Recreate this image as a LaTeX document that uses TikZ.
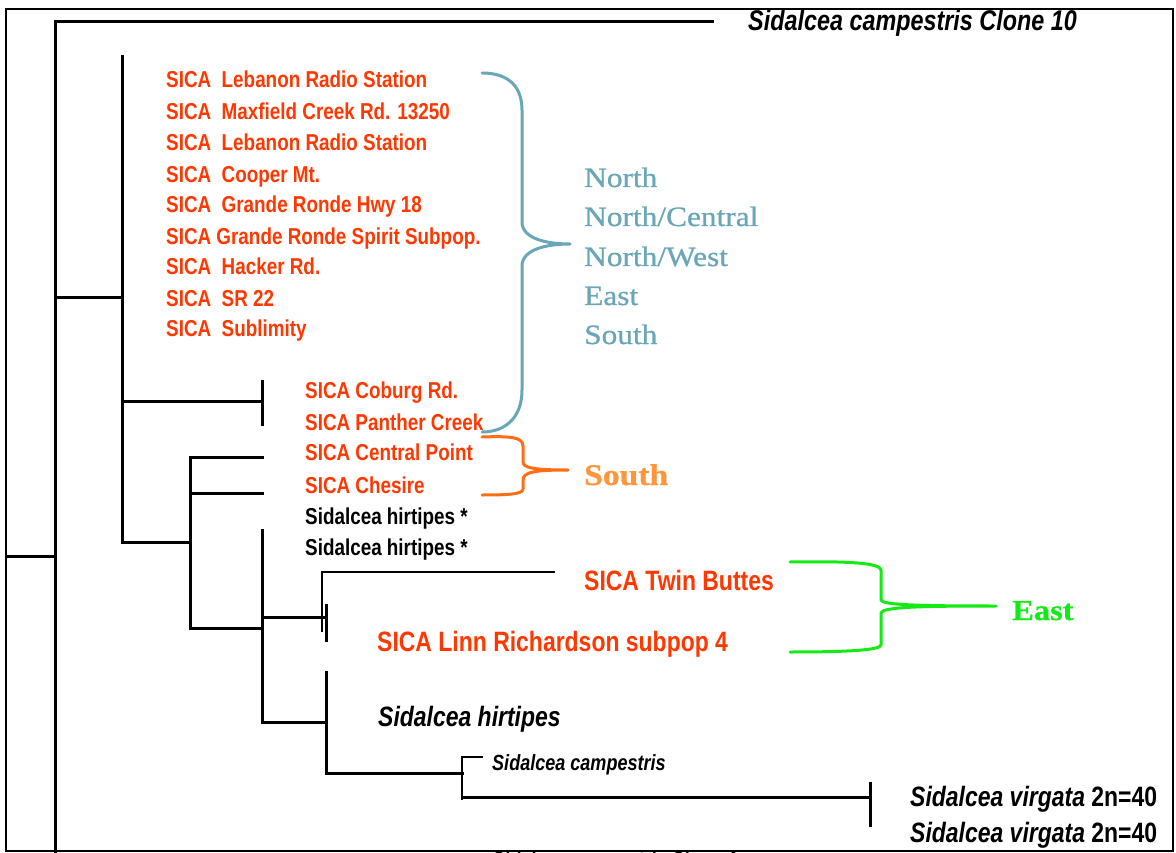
\documentclass[tikz,border=0pt]{standalone}
\usepackage{fontspec}
\newfontfamily\narrowsf[FakeStretch=0.82]{Liberation Sans}
\newfontfamily\wideserif[FakeStretch=1.12,FakeBold=0.8]{Liberation Serif}
\definecolor{sicared}{RGB}{255,55,0}
\definecolor{tealc}{RGB}{104,166,184}
\definecolor{orngc}{RGB}{255,110,20}
\definecolor{orngtxt}{RGB}{255,150,60}
\definecolor{grnc}{RGB}{20,235,20}
\begin{document}
\begin{tikzpicture}[x=1pt,y=-1pt,
  branch/.style={line width=3pt,line cap=rect},
  thinbranch/.style={line width=2pt},
  lab/.style={anchor=base west,inner sep=0pt},
  small/.style={lab,font=\narrowsf\bfseries\fontsize{23}{23}\selectfont},
  redsmall/.style={small,text=sicared},
  redbig/.style={lab,text=sicared,font=\narrowsf\bfseries\fontsize{28}{28}\selectfont},
  itbig/.style={lab,font=\narrowsf\bfseries\itshape\fontsize{28}{28}\selectfont},
  itsmall/.style={lab,font=\narrowsf\bfseries\itshape\fontsize{22}{22}\selectfont},
  region/.style={lab,font=\wideserif\fontsize{28}{28}\selectfont},
  bracecurve/.style={line width=3pt,line cap=round,line join=round}]
\useasboundingbox (0,0) rectangle (1176,853);
\clip (0,0) rectangle (1176,853);
\fill[white] (0,0) rectangle (1176,853);
\draw[line width=1.6pt] (6,9) rectangle (1173,851);

% tree coordinates
\coordinate (r0) at (55,22);  \coordinate (rB) at (55,870); \coordinate (c10) at (712,22);
\coordinate (lstub) at (6,556); \coordinate (rM) at (55,556);
\coordinate (r298) at (55,298); \coordinate (a298) at (122,298);
\coordinate (aT) at (122,57); \coordinate (aB) at (122,542);
\coordinate (a401) at (122,401); \coordinate (b401) at (262,401);
\coordinate (bT) at (262,381); \coordinate (bB) at (262,424);
\coordinate (c542) at (190,542); \coordinate (cT) at (190,457); \coordinate (cB) at (190,628);
\coordinate (c493) at (190,493);
\coordinate (d457) at (262,457); \coordinate (d493) at (262,493);
\coordinate (e628) at (262,628); \coordinate (eT) at (262,530); \coordinate (eB) at (262,722);
\coordinate (e617) at (262,617); \coordinate (f617) at (326,617);
\coordinate (fT) at (326,605); \coordinate (fB) at (326,640);
\coordinate (gT) at (322,572); \coordinate (gB) at (322,632); \coordinate (gR) at (555,572);
\coordinate (h722) at (326,722); \coordinate (hT) at (326,672); \coordinate (hB) at (326,773);
\coordinate (i773) at (462,773); \coordinate (iT) at (462,757); \coordinate (iB) at (462,800);
\coordinate (iR) at (483,757);
\coordinate (k797) at (870,797); \coordinate (kT) at (870,783); \coordinate (kB) at (870,825);
\coordinate (j797) at (462,797);

% tree
\draw[branch] (r0) -- (rB);
\draw[branch] (r0) -- (c10);
\draw[branch] (lstub) -- (rM);
\draw[branch] (r298) -- (a298);
\draw[branch] (aT) -- (aB);
\draw[branch] (a401) -- (b401);
\draw[branch] (bT) -- (bB);
\draw[branch] (aB) -- (c542);
\draw[branch] (cT) -- (cB);
\draw[branch] (cT) -- (d457);
\draw[branch] (c493) -- (d493);
\draw[branch] (cB) -- (e628);
\draw[branch] (eT) -- (eB);
\draw[branch] (e617) -- (f617);
\draw[branch] (fT) -- (fB);
\draw[thinbranch] (gB) -- (gT) -- (gR);
\draw[branch] (eB) -- (h722);
\draw[branch] (hT) -- (hB);
\draw[branch] (hB) -- (i773);
\draw[thinbranch] (iB) -- (iT) -- (iR);
\draw[branch] (j797) -- (k797);
\draw[branch] (kT) -- (kB);

% labels
\node[itbig,font=\narrowsf\bfseries\itshape\fontsize{28.5}{28.5}\selectfont] (t0) at (748,31) {Sidalcea campestris Clone 10};
\node[redsmall] (t1) at (166,88) {SICA~~Lebanon Radio Station};
\node[redsmall] (t2) at (166,120) {SICA~~Maxfield Creek Rd. 13250};
\node[redsmall] (t3) at (166,151) {SICA~~Lebanon Radio Station};
\node[redsmall] (t4) at (166,183) {SICA~~Cooper Mt.};
\node[redsmall] (t5) at (166,213) {SICA~~Grande Ronde Hwy 18};
\node[redsmall] (t6) at (166,245) {SICA Grande Ronde Spirit Subpop.};
\node[redsmall] (t7) at (166,275) {SICA~~Hacker Rd.};
\node[redsmall] (t8) at (166,306) {SICA~~SR 22};
\node[redsmall] (t9) at (166,336) {SICA~~Sublimity};
\node[redsmall] (t10) at (305,398) {SICA Coburg Rd.};
\node[redsmall] (t11) at (305,430) {SICA Panther Creek};
\node[redsmall] (t12) at (305,460) {SICA Central Point};
\node[redsmall] (t13) at (305,493) {SICA Chesire};
\node[small] (t14) at (305,524) {Sidalcea hirtipes *};
\node[small] (t15) at (305,555) {Sidalcea hirtipes *};
\node[redbig] (t16) at (584,590) {SICA Twin Buttes};
\node[redbig] (t17) at (377,651) {SICA Linn Richardson subpop 4};
\node[itbig] (t18) at (378,726) {Sidalcea hirtipes};
\node[itsmall] (t19) at (492,770) {Sidalcea campestris};
\node[itbig] (t20) at (910,806) {Sidalcea virgata {\upshape 2n=40}};
\node[itbig] (t21) at (910,842) {Sidalcea virgata {\upshape 2n=40}};
\node[itsmall] (t22) at (492,867) {Sidalcea campestris Clone 4};

% region labels
\node[region,text=tealc] (n1) at (584,187) {North};
\node[region,text=tealc] (n2) at (584,226) {North/Central};
\node[region,text=tealc] (n3) at (584,266) {North/West};
\node[region,text=tealc] (n4) at (584,305) {East};
\node[region,text=tealc] (n5) at (584,344) {South};
\node[region,text=orngtxt,font=\wideserif\bfseries\fontsize{30}{30}\selectfont] (s1) at (584,485) {South};
\node[region,text=grnc,font=\wideserif\bfseries\fontsize{29}{29}\selectfont] (e1) at (1012,620) {East};

% braces
\draw[bracecurve,tealc] (482,73) .. controls (510,73) and (522,88) .. (522,110) -- (522,222)
  .. controls (522,238) and (545,244) .. (570,244)
  .. controls (545,244) and (522,250) .. (522,266) -- (522,390)
  .. controls (522,418) and (505,432) .. (482,432);
\draw[bracecurve,orngc] (482,437) .. controls (510,436) and (523,437) .. (523,446) -- (523,462)
  .. controls (523,468) and (535,470) .. (568,470)
  .. controls (535,470) and (523,472) .. (523,480) -- (523,489)
  .. controls (523,494) and (510,495) .. (482,495);
\draw[bracecurve,grnc] (790,562) .. controls (850,561) and (880,563) .. (881,570) -- (881,600)
  .. controls (882,605) and (920,606) .. (996,606)
  .. controls (920,606) and (882,607) .. (881,613) -- (881,645)
  .. controls (880,650) and (850,652) .. (790,652);
\end{tikzpicture}
\end{document}
